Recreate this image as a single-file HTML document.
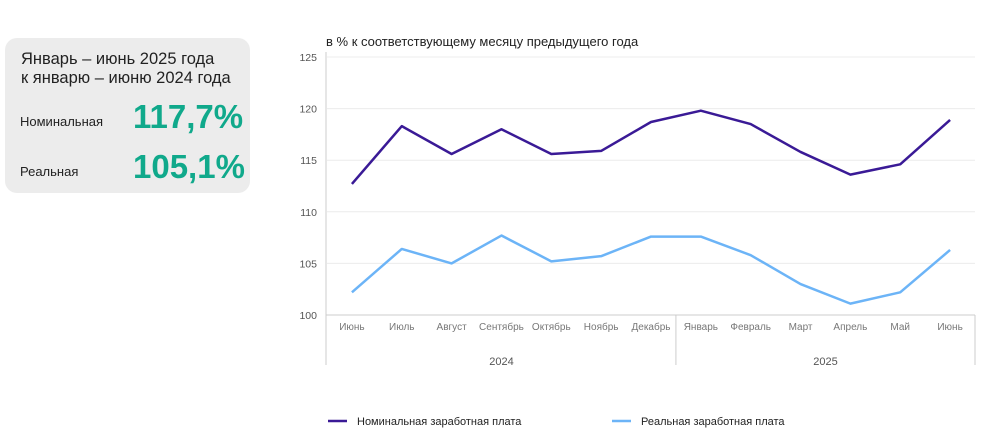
<!DOCTYPE html>
<html><head><meta charset="utf-8"><style>
body{margin:0;width:984px;height:436px;background:#fff;font-family:"Liberation Sans",sans-serif;overflow:hidden;position:relative}
.card{position:absolute;left:5px;top:38px;width:245px;height:155px;background:#ececec;border-radius:12px}
.t{position:absolute;color:#222}
.big{position:absolute;color:#10a98b;font-weight:bold;font-size:33px}
</style></head><body>
<div class="card">
<div class="t" style="left:16px;top:12px;font-size:16.5px;line-height:19px">Январь – июнь 2025 года<br>к январю – июню 2024 года</div>
<div class="t" style="left:15px;top:76px;font-size:13px">Номинальная</div>
<div class="big" style="left:128px;top:60px">117,7%</div>
<div class="t" style="left:15px;top:126px;font-size:13px">Реальная</div>
<div class="big" style="left:128px;top:110px">105,1%</div>
</div>
<svg id="c" width="984" height="436" style="position:absolute;left:0;top:0"></svg>
<script>
const months=["Июнь","Июль","Август","Сентябрь","Октябрь","Ноябрь","Декабрь","Январь","Февраль","Март","Апрель","Май","Июнь"];
const nominal=[112.7,118.3,115.6,118.0,115.6,115.9,118.7,119.8,118.5,115.8,113.6,114.6,118.9];
const real=[102.2,106.4,105.0,107.7,105.2,105.7,107.6,107.6,105.8,103.0,101.1,102.2,106.3];
const yTicks=[100,105,110,115,120,125];
const years=[{label:"2024",from:0,to:7},{label:"2025",from:7,to:13}];
const svg=document.getElementById('c');const NS='http://www.w3.org/2000/svg';
const L=327,R=975,T=57,B=315,step=(R-L)/months.length;
const x=i=>L+step*(i+0.5);const y=v=>B-(v-100)/25*(B-T);
function el(t,a,txt){const e=document.createElementNS(NS,t);for(const k in a)e.setAttribute(k,a[k]);if(txt!=null)e.textContent=txt;svg.appendChild(e);return e;}
let e=el('text',{x:326,y:46,'font-size':13,fill:'#222'},'в % к соответствующему месяцу предыдущего года');


yTicks.forEach(v=>{
 if(v>100){const g=el('line',{x1:L,x2:R,y1:y(v),y2:y(v),stroke:'#ececec','stroke-width':1});
 
 }
 const t=el('text',{x:317,y:y(v)+4,'font-size':10.5,fill:'#555','text-anchor':'end'},v);
 
 
});
e=el('line',{x1:326,x2:326,y1:T-5,y2:365,stroke:'#ccc'});


e=el('line',{x1:326,x2:R,y1:B,y2:B,stroke:'#ccc'});


months.forEach((m,i)=>{const t=el('text',{x:x(i),y:330,'font-size':10,fill:'#777','text-anchor':'middle'},m);
 
 });
years.forEach(g=>{
 const xe=L+step*g.to;const s=el('line',{x1:xe,x2:xe,y1:B,y2:365,stroke:'#ccc'});
 
 
 const t=el('text',{x:L+step*(g.from+g.to)/2,y:365,'font-size':11,fill:'#555','text-anchor':'middle'},g.label);
 
 
});
function line(d,c,name){const p=el('polyline',{points:d.map((v,i)=>x(i)+','+y(v)).join(' '),fill:'none',stroke:c,'stroke-width':2.5,'stroke-linejoin':'round'});
 
 }
line(nominal,'#3a1a96','nominal-wage-line');
line(real,'#6cb4f7','real-wage-line');
[[328,'#3a1a96','Номинальная заработная плата','legend-nominal'],[612,'#6cb4f7','Реальная заработная плата','legend-real']].forEach(a=>{
 const l=el('line',{x1:a[0],x2:a[0]+19,y1:421,y2:421,stroke:a[1],'stroke-width':2.5});
 
 
 const t=el('text',{x:a[0]+29,y:425,'font-size':11,fill:'#222'},a[2]);
 
 
});
</script>
</body></html>
